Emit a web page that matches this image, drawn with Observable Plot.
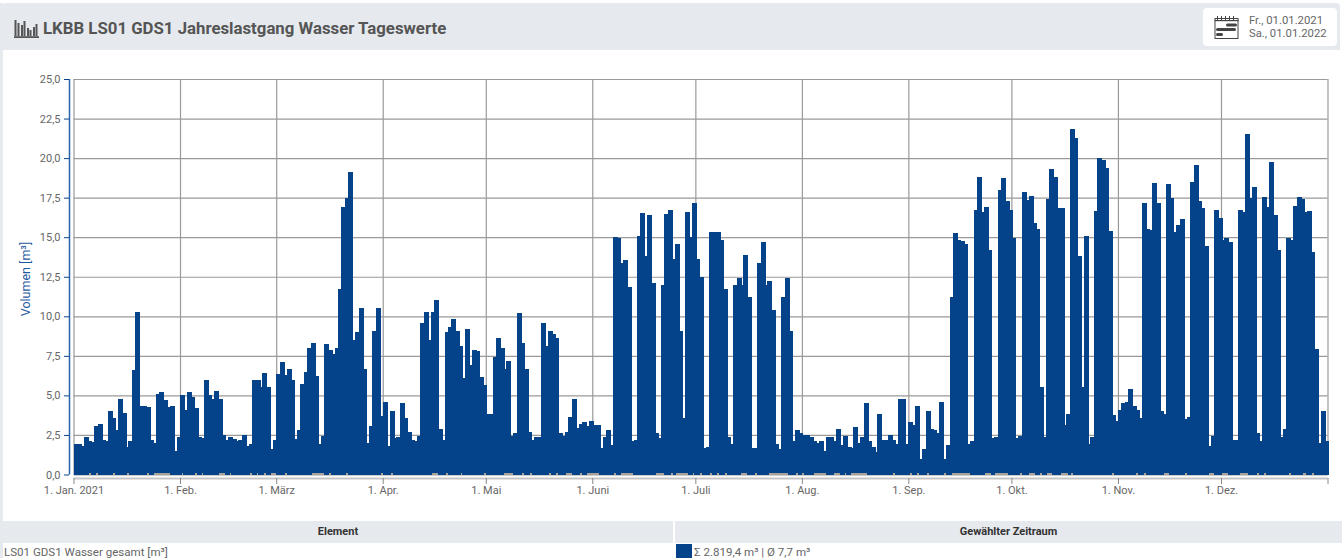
<!DOCTYPE html>
<html lang="de"><head><meta charset="utf-8">
<script src="https://cdn.jsdelivr.net/npm/d3@7"></script>
<script src="https://cdn.jsdelivr.net/npm/@observablehq/plot@0.6"></script>
<style>
html,body{margin:0;padding:0;background:#fff;overflow:hidden}
body{width:1342px;height:558px;position:relative;font-family:Roboto,sans-serif;color:#555}
#leftbar{position:absolute;left:0;top:3px;width:3px;height:555px;background:#e6e9ee}
#head{position:absolute;left:2px;top:3px;width:1338px;height:47px;background:#e6e9ee;border-radius:4px 4px 0 0}
#title{position:absolute;left:43px;top:18px;font-size:16.8px;font-weight:700;color:#555;line-height:20px;white-space:nowrap}
#range{position:absolute;left:1203px;top:8px;width:134px;height:38px;background:#fff;border-radius:4px}
#range div{position:absolute;left:46px;font-size:11.3px;line-height:14px;color:#666;white-space:nowrap}
#chart{position:absolute;left:0;top:51px}
#tbl div{position:absolute;font-size:11px;line-height:14px;white-space:nowrap}
#tbl div.row{font-size:11.55px;top:544.5px;color:#666}
.th{background:#e6e9ee;top:521px;height:22px;font-weight:700;color:#333;text-align:center;line-height:22px!important}
</style></head><body>
<div id="leftbar"></div>
<div id="head"></div>
<svg style="position:absolute;left:14px;top:20px" width="25" height="18" viewBox="0 0 25 18">
<g fill="#555"><rect x="0.5" y="0" width="2" height="16"/><rect x="3.5" y="3" width="2" height="13"/><rect x="7" y="5" width="2" height="11"/><rect x="9.5" y="1" width="2" height="15"/><rect x="13" y="8" width="2" height="8"/><rect x="15.5" y="10" width="2" height="6"/><rect x="19" y="7" width="2" height="9"/><rect x="21.5" y="4" width="2" height="12"/><rect x="0" y="16.2" width="25" height="1.8"/></g></svg>
<div id="title">LKBB LS01 GDS1 Jahreslastgang Wasser Tageswerte</div>
<div id="range">
<svg style="position:absolute;left:11px;top:8px" width="25" height="23" viewBox="0 0 25 23">
<g fill="none" stroke="#444"><rect x="1" y="2.5" width="23" height="20"/></g>
<g fill="#444"><rect x="0.5" y="4" width="24" height="1.2"/><rect x="3" y="0" width="1" height="4"/><rect x="7" y="0" width="1" height="4"/><rect x="11" y="0" width="1" height="4"/><rect x="15" y="0" width="1" height="4"/><rect x="19" y="0" width="1" height="4"/><rect x="12" y="7.5" width="11" height="3" rx="1.5"/><rect x="2" y="12" width="20" height="3" rx="1.5"/><rect x="2" y="17" width="7" height="3" rx="1.5"/></g></svg>
<div style="top:6px">Fr., 01.01.2021</div><div style="top:19px">Sa., 01.01.2022</div>
</div>
<div id="chart"></div>
<div id="tbl">
<div class="th" style="left:3px;width:670px">Element</div>
<div class="th" style="left:675px;width:667px">Gewählter Zeitraum</div>
<div class="row" style="left:4px">LS01 GDS1 Wasser gesamt [m³]</div>
<div style="left:676px;top:544px;width:16px;height:14px;background:#04428a"></div>
<div class="row" style="left:694px">Σ 2.819,4 m³ | Ø 7,7 m³</div>
</div>
<script>
// Tageswerte [m³]
const jan=[1.95,1.95,1.8,2.4,2.1,2.05,3.05,3.2,2.2,2.1,4.0,3.6,2.8,4.8,3.9,1.75,2.1,6.6,10.3,4.3,4.35,4.25,2.2,2.0,5.1,5.2,4.7,4.25,4.3,1.5,2.35];
const feb=[5.0,4.1,5.2,4.9,4.2,2.4,2.3,6.0,5.05,4.8,5.3,4.75,2.5,2.2,2.4,2.25,2.1,2.15,2.5,1.8,1.95,5.95,5.95,5.5,6.4,5.5,1.6,2.2];
const mar=[6.35,7.1,6.3,6.7,6.0,2.25,2.8,5.75,6.5,8.0,8.3,6.2,1.95,2.45,8.25,7.85,7.6,8.0,11.75,16.9,17.5,19.1,8.5,9.0,10.5,6.65,2.0,3.05,9.05,10.55,3.67];
const apr=[4.6,1.77,4.0,2.3,2.4,4.55,3.55,2.7,2.2,2.1,2.45,9.55,10.25,8.5,10.25,11.05,2.85,2.2,9.0,9.3,9.8,9.1,8.15,6.1,9.2,6.9,7.85,7.8,6.15,5.65];
const mai=[3.85,3.8,7.45,8.6,8.0,6.65,7.15,2.45,2.6,10.2,8.3,6.65,2.7,2.15,2.35,2.35,9.55,8.1,9.05,8.85,8.65,2.65,2.45,2.7,3.65,4.75,2.95,3.2,3.3,3.05,3.4];
const jun=[3.15,3.15,1.65,2.35,2.8,1.85,15.0,14.95,13.35,13.55,11.85,2.1,2.15,15.1,16.5,13.8,16.4,12.1,2.65,2.3,12.0,16.45,16.75,13.6,14.55,9.1,3.55,16.6,15.0,17.15];
const jul=[13.65,12.5,1.65,1.75,15.3,15.3,15.3,14.8,11.7,2.4,1.95,11.95,12.45,12.0,13.9,11.2,1.7,1.7,13.35,14.7,11.95,12.2,10.4,1.9,1.6,11.2,12.45,9.05,2.1,2.8,2.6];
const aug=[2.5,2.5,2.4,2.1,2.0,2.1,1.5,2.4,2.35,2.1,2.85,1.85,2.45,1.75,1.65,3.0,2.0,2.35,4.5,2.1,1.75,1.45,3.85,2.15,2.2,2.5,2.15,1.95,4.8,4.8,1.95];
const sep=[3.35,3.15,4.35,1.0,1.6,4.0,2.85,2.8,2.65,4.6,0.95,1.85,11.25,15.25,14.8,14.75,14.6,1.95,2.1,16.7,18.8,16.6,16.9,14.2,2.3,2.4,18.0,18.75,17.3,16.7];
const okt=[14.95,2.3,2.45,17.85,17.35,17.6,15.9,15.5,5.55,2.4,17.4,19.3,18.8,16.85,16.85,3.1,3.85,21.85,21.3,13.8,5.5,15.05,1.95,2.4,16.65,20.0,19.85,19.4,15.4,3.75,3.4];
const nov=[4.05,4.5,4.6,5.4,4.3,4.05,3.55,17.15,15.5,15.45,18.4,17.15,4.0,3.85,18.35,17.45,15.3,15.8,16.15,3.5,3.65,18.5,19.55,17.3,16.85,14.45,1.8,2.45,16.7,16.2];
const dez=[14.85,14.95,14.7,2.15,2.2,16.7,16.6,21.5,17.45,18.2,2.6,2.1,17.55,16.9,19.75,16.4,14.2,2.35,2.9,14.95,14.85,16.95,17.55,17.4,16.6,16.65,14.05,7.95,2.0,4.0,2.1];
const values=[...jan,...feb,...mar,...apr,...mai,...jun,...jul,...aug,...sep,...okt,...nov,...dez];

// Second, near-zero series visible at the baseline: [from day, to day] of the year
const lowSpans=[[4.6,5.1],[6.55,7.1],[11.5,12.1],[15.6,16.2],[21.3,22],[23.5,28.1],[31.7,32],[35.4,35.9],[37.3,37.8],[42.4,44.1],[45.6,45.9],[51.4,51.9],[53.3,53.8],[55.5,56],[57.5,59],[61.7,62.1],[69.5,72.9],[74.5,75],[79.3,79.8],[89.6,90.1],[92.4,92.9],[104.4,106.1],[108.5,109],[112.7,113.2],[119.6,120.1],[125.3,128],[130.6,131],[132.9,133.4],[138.4,139],[140.5,141],[143.4,145.1],[147.5,148],[149.5,153],[157.4,157.9],[159.4,162.9],[169.6,171.9],[174,174.6],[175.4,178.9],[180.3,180.6],[182.4,183],[185.3,185.9],[187.3,187.9],[189.7,190.3],[194.3,196.1],[198.4,199],[202.5,208],[210.3,210.9],[212.1,212.7],[215.6,219.1],[221.4,223.2],[224.6,224.9],[226.4,231],[238.6,239.2],[243.5,244.1],[245.6,246.1],[248.5,249.1],[253.4,254],[255.7,260.9],[265.4,267.1],[268.3,272],[275.5,276.1],[278.1,279.9],[281.4,282],[283.4,284.9],[287.5,289.5],[290.4,291],[302.3,302.9],[309.3,309.9],[311.7,312.2],[317.5,319],[323.6,324.2],[330.6,332],[334.4,336.1],[339.6,341.9],[344.5,345.1],[346.6,347.2],[353.9,354.4],[358,358.6],[360.6,361.2]];
const lowValue=0.08;

const yTicks=[0,2.5,5,7.5,10,12.5,15,17.5,20,22.5,25];
const monthLabels=["1. Jan. 2021","1. Feb.","1. März","1. Apr.","1. Mai","1. Juni","1. Juli","1. Aug.","1. Sep.","1. Okt.","1. Nov.","1. Dez.",""];
const start=Date.UTC(2021,0,1), DAY=864e5;
const at=d=>new Date(start+d*DAY);
const months=d3.utcMonth.range(new Date(start),new Date(Date.UTC(2022,0,2)));
const rows=values.map((v,i)=>({d:i,v}));
const GRID="#9a9a9a", BLUE="#04428a", AXISBLUE="#2562a8";
const label=new Map(months.map((m,i)=>[+m,monthLabels[i]]));

const chart=Plot.plot({
  width:1342,height:470,
  marginLeft:69,marginRight:0,marginTop:28,marginBottom:43,
  style:{fontFamily:"Roboto,sans-serif",fontSize:"11px",color:"#666",background:"transparent"},
  x:{type:"utc",domain:[at(0),at(365)],range:[73.5,1327.5]},
  y:{domain:[0,25],range:[423.5,28]},
  marks:[
    Plot.ruleY(yTicks,{x1:at(0),x2:at(365),stroke:GRID,strokeWidth:1.2}),
    Plot.ruleX(months,{y1:0,y2:25,stroke:GRID,strokeWidth:1.2}),
    Plot.rectY(rows,{x1:d=>at(d.d),x2:d=>at(d.d+1),y1:0,y2:"v",fill:BLUE,insetRight:-1.56,shapeRendering:"crispEdges"}),
    Plot.rectY(lowSpans,{x1:s=>at(s[0]),x2:s=>at(s[1]),y1:0,y2:lowValue,fill:"#a8a29a",shapeRendering:"crispEdges"}),
    Plot.ruleX([at(0)],{y1:0,y2:25,dx:-4.5,stroke:AXISBLUE,strokeWidth:1.5}),
    Plot.ruleY([0],{x1:at(0),x2:at(365),dy:3.5,stroke:"#c6c6c6",strokeWidth:2}),
    Plot.axisY({ticks:yTicks,tickFormat:v=>v.toFixed(1).replace(".",","),tickSize:5,tickPadding:4,stroke:BLUE,fill:"#666",label:null}),
    Plot.axisX({ticks:months,tickFormat:m=>label.get(+m),tickSize:6,tickPadding:2,stroke:"#888",fill:"#666",label:null}),
    Plot.text(["Volumen [m³]"],{frameAnchor:"left",textAnchor:"middle",dx:-44,rotate:-90,fill:"#1f5a9e",fontSize:12.5})
  ]
});
document.getElementById("chart").append(chart);
</script>
</body></html>
